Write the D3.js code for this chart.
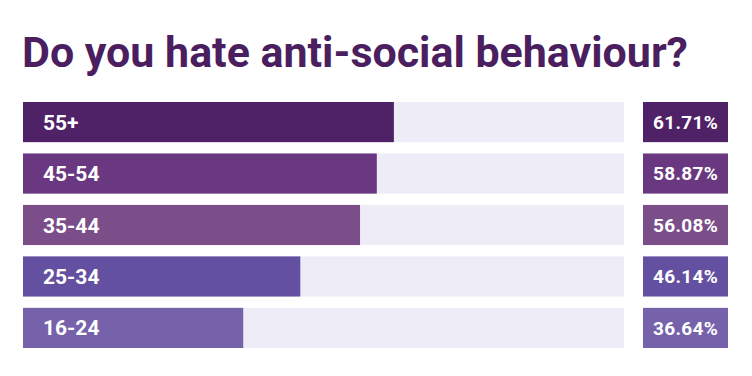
<!DOCTYPE html>
<html>
<head>
<meta charset="utf-8">
<script src="https://cdn.jsdelivr.net/npm/d3@7"></script>
<style>
  body { margin: 0; background: #fff; }
  svg { display: block; }
</style>
</head>
<body>
<div id="chart"></div>
<script>
const width = 752, height = 376;

const ages = ["55+", "45-54", "35-44", "25-34", "16-24"];
const shares = [61.71, 58.87, 56.08, 46.14, 36.64];
const barColors = ["#4f2166", "#6a3881", "#7b4e89", "#6450a0", "#7562ab"];

const data = ages.map((a, i) => ({ age: a, value: shares[i], color: barColors[i] }));

const svg = d3.select("#chart").append("svg")
    .attr("width", width)
    .attr("height", height);

let x = d3.scaleLinear()
    .domain([0, 100])
    .range([23, 624]);

let y = d3.scaleBand()
    .domain(ages)
    .range([102, 348])
    .paddingInner(0.22)
    .paddingOuter(0);

// title
svg.append("text")
    .attr("x", 22)
    .attr("y", 67)
    .text("Do you hate anti-social behaviour?")
    .attr("textLength", 666)
    .attr("lengthAdjust", "spacingAndGlyphs")
    .style("font-family", "Roboto")
    .style("font-weight", "700")
    .style("font-size", "43px")
    .style("fill", "#4b1f5f");

// background tracks
svg.selectAll(".track")
    .data(data)
    .enter().append("rect")
    .attr("class", "track")
    .attr("x", x(0))
    .attr("y", d => y(d.age))
    .attr("width", x(100) - x(0))
    .attr("height", y.bandwidth())
    .attr("fill", "#eeecf6");

svg.selectAll(".bar")
    .data(data)
    .enter().append("rect")
    .attr("class", "bar")
    .attr("x", x(0))
    .attr("y", d => y(d.age))
    .attr("width", d => x(d.value) - x(0))
    .attr("height", y.bandwidth())
    .attr("fill", d => d.color);

svg.selectAll(".label")
    .data(data)
    .enter().append("text")
    .attr("class", "label")
    .attr("x", 43)
    .attr("y", d => y(d.age) + y.bandwidth() / 2)
    .attr("dy", "0.36em")
    .text(d => d.age)
    .style("font-family", "Roboto")
    .style("font-weight", "700")
    .style("font-size", "21px")
    .style("fill", "#fff");

// value boxes on the right
svg.selectAll(".vbox")
    .data(data)
    .enter().append("rect")
    .attr("class", "vbox")
    .attr("x", 643)
    .attr("y", d => y(d.age))
    .attr("width", 85)
    .attr("height", y.bandwidth())
    .attr("fill", d => d.color);

svg.selectAll(".vlabel")
    .data(data)
    .enter().append("text")
    .attr("class", "vlabel")
    .attr("x", 643 + 85 / 2)
    .attr("y", d => y(d.age) + y.bandwidth() / 2)
    .attr("dy", "0.36em")
    .text(d => d.value.toFixed(2) + "%")
    .style("font-family", "Roboto")
    .style("font-weight", "700")
    .style("font-size", "19px")
    .style("letter-spacing", "0.3px")
    .style("text-anchor", "middle")
    .style("fill", "#fff");
</script>
</body>
</html>
